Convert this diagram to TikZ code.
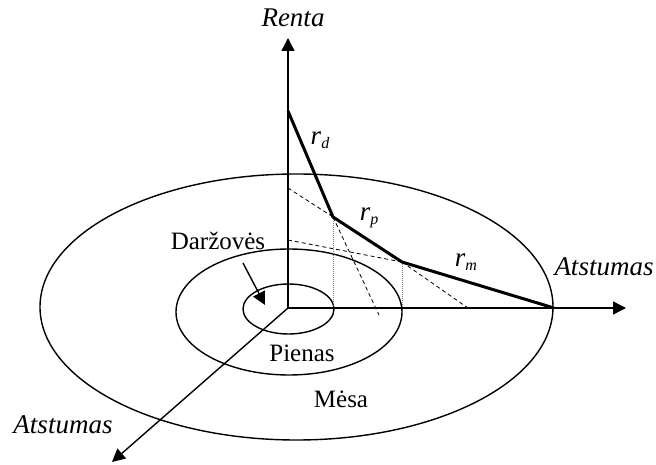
\documentclass[tikz,border=0pt]{standalone}
\usepackage{fontspec}
\setmainfont{Liberation Serif}
\usetikzlibrary{arrows.meta}
\begin{document}
\begin{tikzpicture}[x=1pt,y=-1pt,
  axisline/.style={line width=1.4pt,-{Triangle[length=13pt,width=13pt]}},
  ring/.style={line width=1.4pt},
  rent/.style={line width=3pt,line join=miter},
  helper/.style={line width=0.8pt,dash pattern=on 4pt off 3pt},
  drop/.style={line width=0.6pt,gray,dash pattern=on 1pt off 1pt},
  lbl/.style={inner sep=0pt,font=\fontsize{25}{25}\selectfont},
  ilbl/.style={inner sep=0pt,font=\fontsize{27}{27}\selectfont\itshape}]
\useasboundingbox (0,0) rectangle (656,465);
% rings
\draw[ring] (296.5,307) ellipse [x radius=256.5pt, y radius=133pt];
\draw[ring] (289,312) ellipse [x radius=113pt, y radius=63pt];
\draw[ring] (288.5,309) ellipse [x radius=45.5pt, y radius=25pt];
% coordinates
\coordinate (O) at (288,308);
\coordinate (ytip) at (288,38);
\coordinate (xtip) at (626,308);
\coordinate (ztip) at (112,462);
\coordinate (R0) at (288,111);
\coordinate (K1) at (333,217);
\coordinate (K2) at (402,262);
\coordinate (R3) at (554,308);
\coordinate (D1) at (288,188);
\coordinate (D2) at (379,315);
\coordinate (D3) at (288,240);
\coordinate (D4) at (468,308);
\coordinate (F1) at (333,308);
\coordinate (F2) at (402,308);
% helper lines
\draw[drop] (K1) -- (F1);
\draw[drop] (K2) -- (F2);
\draw[helper] (D1) -- (K1);
\draw[helper] (K1) -- (D2);
\draw[helper] (D3) -- (K2);
\draw[helper] (K2) -- (D4);
% axes
\draw[axisline] (O) -- (ytip);
\draw[axisline] (O) -- (xtip);
\draw[axisline] (O) -- (ztip);
% rent curve
\draw[rent] (R0) -- (K1) -- (K2) -- (R3);
% labels
\node[ilbl] (renta) at (293,18) {Renta};
\node[ilbl] (ax1) at (604,267) {Atstumas};
\node[ilbl] (ax2) at (63,425) {Atstumas};
\node[lbl] (darz) at (218,241) {Daržovės};
\node[lbl] (pien) at (302,353) {Pienas};
\node[lbl] (mesa) at (341,399) {Mėsa};
\node[ilbl] (rd) at (320,140) {r\raisebox{-0.35ex}{\fontsize{16}{16}\selectfont d}};
\node[ilbl] (rp) at (369,218) {r\raisebox{-0.35ex}{\fontsize{16}{16}\selectfont p}};
\node[ilbl] (rm) at (466,262) {r\raisebox{-0.35ex}{\fontsize{16}{16}\selectfont m}};
\coordinate (arrS) at (243,263);
\coordinate (arrE) at (265,305);
\draw[line width=1.4pt,-{Triangle[length=13pt,width=13pt]}] (arrS) -- (arrE);
\end{tikzpicture}
\end{document}
